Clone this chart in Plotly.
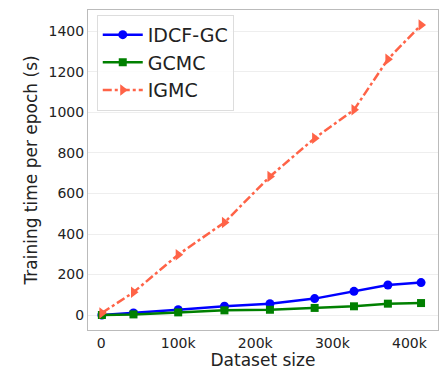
import plotly.graph_objects as go

sizes = [1000, 42000, 100000, 160000, 219000, 277000, 328000, 372000, 415000]
idcf_gc = [0, 10, 26, 43, 56, 81, 117, 148, 160]
gcmc = [0, 3, 13, 23, 26, 35, 43, 56, 59]
igmc = [10, 112, 298, 457, 684, 873, 1013, 1263, 1432]

x_tickvals = [0, 100000, 200000, 300000, 400000]
x_ticktext = ["0", "100k", "200k", "300k", "400k"]
y_tickvals = [0, 200, 400, 600, 800, 1000, 1200, 1400]

fig = go.Figure()
fig.add_trace(go.Scatter(x=sizes, y=idcf_gc, name="IDCF-GC", mode="lines+markers",
                         line=dict(color="#0000ff", width=2.5),
                         marker=dict(symbol="circle", size=9, color="#0000ff")))
fig.add_trace(go.Scatter(x=sizes, y=gcmc, name="GCMC", mode="lines+markers",
                         line=dict(color="#008000", width=2.5),
                         marker=dict(symbol="square", size=8, color="#008000")))
fig.add_trace(go.Scatter(x=sizes, y=igmc, name="IGMC", mode="lines+markers",
                         line=dict(color="#ff6347", width=2.5, dash="dashdot"),
                         marker=dict(symbol="triangle-right", size=10, color="#ff6347")))

fig.update_layout(
    width=447, height=370,
    margin=dict(l=88, r=9, t=10, b=40),
    paper_bgcolor="white", plot_bgcolor="white",
    font=dict(family="DejaVu Sans", color="#222222"),
    legend=dict(x=0.025, y=0.985, xanchor="left", yanchor="top",
                bgcolor="rgba(255,255,255,0.8)", bordercolor="#dddddd", borderwidth=1,
                font=dict(size=19), itemwidth=40, tracegroupgap=0),
    xaxis=dict(range=[-17000, 437000], tickvals=x_tickvals, ticktext=x_ticktext,
               showgrid=False, zeroline=False, showline=True, mirror=True, automargin=False,
               linecolor="#bbbbbb", linewidth=1, ticks="", tickfont=dict(size=14),
               title=dict(text="Dataset size", font=dict(size=17), standoff=0)),
    yaxis=dict(range=[-74, 1506], tickvals=y_tickvals, automargin=False,
               showgrid=True, gridcolor="#eeeeee", zeroline=False, showline=True, mirror=True,
               linecolor="#bbbbbb", linewidth=1, ticks="", tickfont=dict(size=14),
               title=dict(text="Training time per epoch (s)", font=dict(size=17), standoff=6)),
)

fig.write_html("out.html", config={"displayModeBar": False},
               post_script="document.body.style.margin='0';document.body.style.overflow='hidden';")
